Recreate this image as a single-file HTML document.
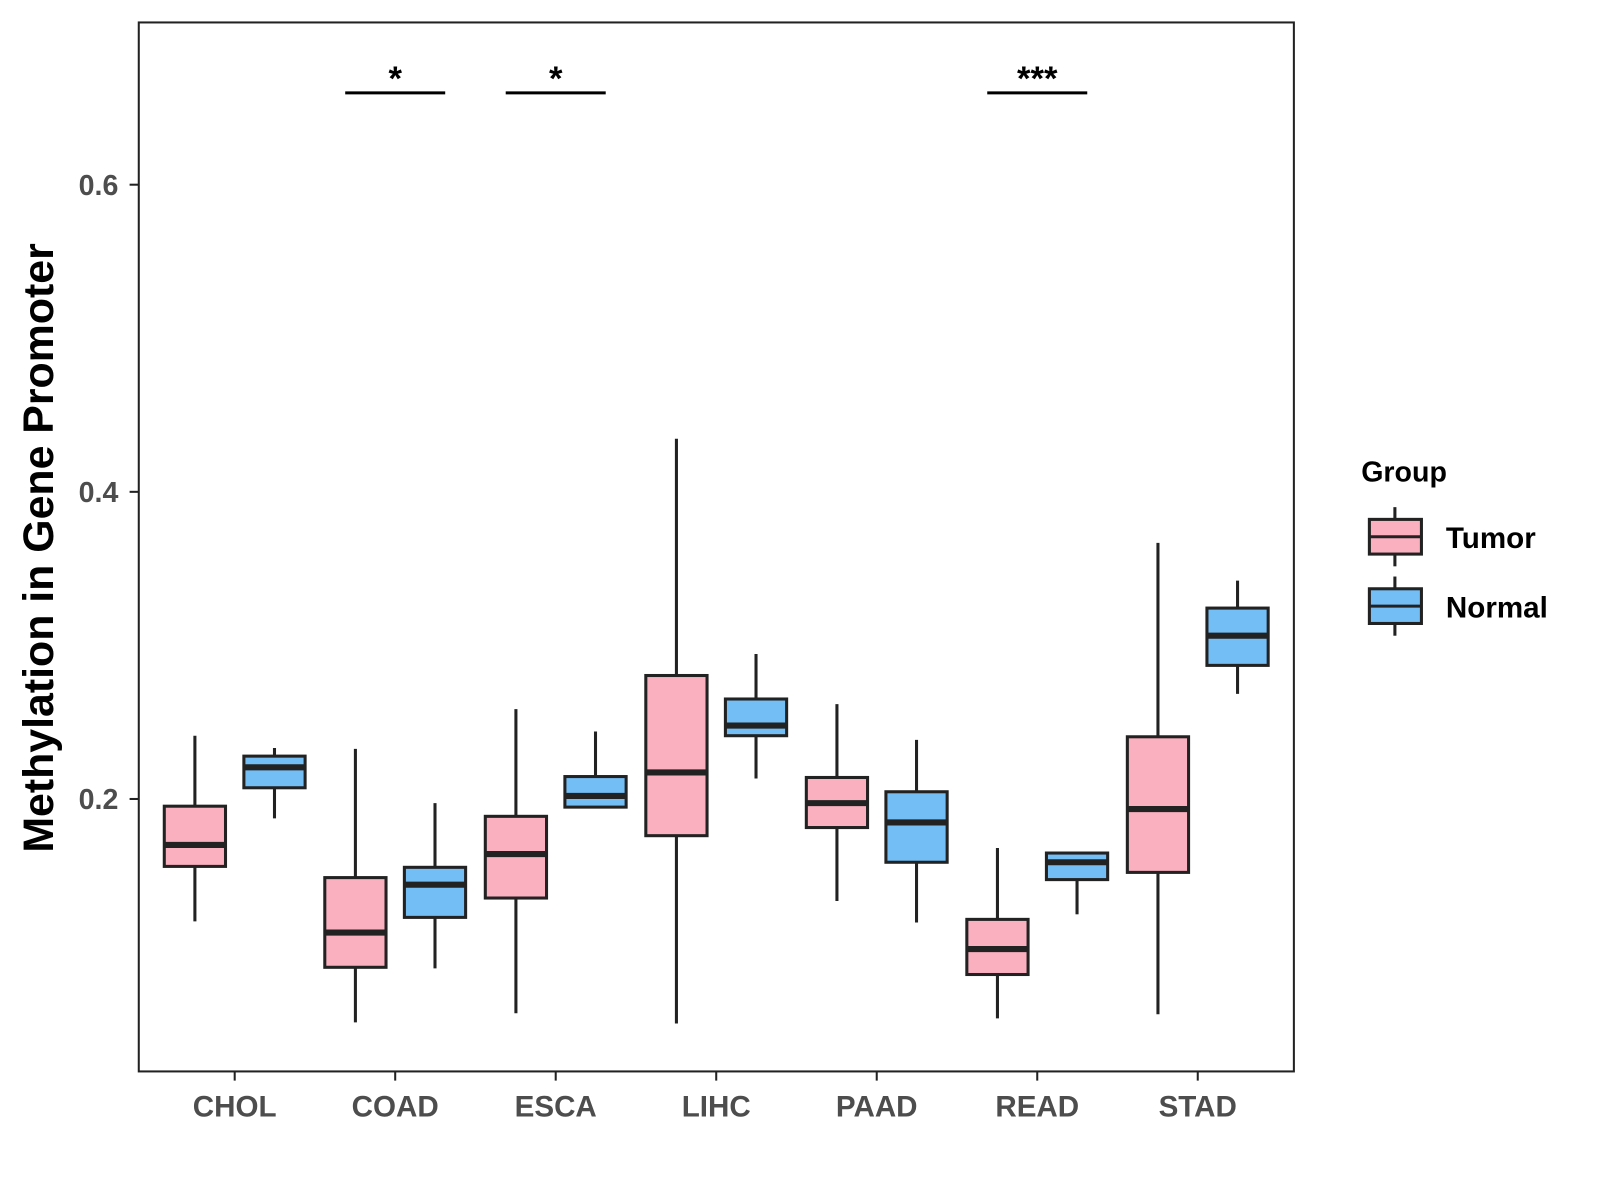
<!DOCTYPE html>
<html><head><meta charset="utf-8"><style>
html,body{margin:0;padding:0;background:#fff;}
svg{display:block;font-family:"Liberation Sans",Arial,sans-serif;}
</style></head><body>
<svg id="chart" width="1600" height="1200" viewBox="0 0 1568 1176" preserveAspectRatio="none">
<rect x="0" y="0" width="1568" height="1176" fill="#fff"/>
<rect x="136" y="22" width="1132" height="1028" fill="none" stroke="#222" stroke-width="2"/>
<g id="marks"></g>
<g id="axes"></g>
<text transform="translate(52,537) rotate(-90)" text-anchor="middle" font-size="42" font-weight="bold" fill="#000">Methylation in Gene Promoter</text>
<g>
<text x="1334" y="472" font-size="28" font-weight="bold" fill="#000">Group</text>
<g>
<line x1="1367" y1="497" x2="1367" y2="555" stroke="#222" stroke-width="3"/>
<rect x="1342" y="509" width="51" height="34" fill="#FBB0C0" stroke="#222" stroke-width="3"/>
<line x1="1342" y1="526" x2="1393" y2="526" stroke="#222" stroke-width="3"/>
<text x="1417" y="537" font-size="29" font-weight="bold" fill="#000">Tumor</text>
</g>
<g>
<line x1="1367" y1="565" x2="1367" y2="623" stroke="#222" stroke-width="3"/>
<rect x="1342" y="577" width="51" height="34" fill="#74BEF6" stroke="#222" stroke-width="3"/>
<line x1="1342" y1="594" x2="1393" y2="594" stroke="#222" stroke-width="3"/>
<text x="1417" y="605" font-size="29" font-weight="bold" fill="#000">Normal</text>
</g>
</g>
</svg>
<script>
const categories = ["CHOL","COAD","ESCA","LIHC","PAAD","READ","STAD"];
// [low whisker, q1, median, q3, high whisker]
const tumorStats = [
 [0.1203,0.1561,0.1701,0.1953,0.2412],
 [0.0545,0.0904,0.1130,0.1488,0.2326],
 [0.0605,0.1355,0.1641,0.1887,0.2585],
 [0.0538,0.1761,0.2173,0.2804,0.4346],
 [0.1336,0.1814,0.1973,0.2140,0.2618],
 [0.0571,0.0857,0.1023,0.1216,0.1681],
 [0.0598,0.1522,0.1934,0.2405,0.3668]
];
const normalStats = [
 [0.1874,0.2073,0.2206,0.2279,0.2332],
 [0.0897,0.1229,0.1442,0.1555,0.1973],
 [0.1947,0.1947,0.2020,0.2146,0.2439],
 [0.2133,0.2412,0.2478,0.2651,0.2944],
 [0.1196,0.1588,0.1847,0.2047,0.2385],
 [0.1249,0.1475,0.1588,0.1648,0.1648],
 [0.2684,0.2870,0.3063,0.3243,0.3422]
];
const yTicks = [0.2,0.4,0.6];
const yTickLabels = ["0.2","0.4","0.6"];
const sigCategories = ["COAD","ESCA","READ"];
const sigLabels = ["*","*","***"];

const NS="http://www.w3.org/2000/svg";
function yScale(v){return 783-(v-0.2)*1505;}
function xScale(i){return 230+i*157.3;}
function mk(tag,attrs,parent){const e=document.createElementNS(NS,tag);for(const k in attrs)e.setAttribute(k,attrs[k]);parent.appendChild(e);return e;}
const marks=document.getElementById('marks');
const axes=document.getElementById('axes');
function drawBox(s,cx,fill,name){
  const g=mk('g',{},marks);
  
  
  mk('line',{x1:cx,x2:cx,y1:yScale(s[0]),y2:yScale(s[4]),stroke:'#222','stroke-width':3},g);
  const t=yScale(s[3]),b=yScale(s[1]);
  mk('rect',{x:cx-30,y:t,width:60,height:b-t,fill:fill,stroke:'#222','stroke-width':3},g);
  mk('line',{x1:cx-30,x2:cx+30,y1:yScale(s[2]),y2:yScale(s[2]),stroke:'#222','stroke-width':6},g);
}
categories.forEach((c,i)=>{
  drawBox(tumorStats[i],xScale(i)-39,'#FBB0C0','box-tumor-'+c.toLowerCase());
  drawBox(normalStats[i],xScale(i)+39,'#74BEF6','box-normal-'+c.toLowerCase());
  mk('line',{x1:xScale(i),x2:xScale(i),y1:1050,y2:1059,stroke:'#222','stroke-width':2},axes);
  const t=mk('text',{x:xScale(i),y:1094,'text-anchor':'middle','font-size':29,'font-weight':'bold',fill:'#4d4d4d'},axes);
  t.textContent=c;
  
  
});
yTicks.forEach((v,i)=>{
  mk('line',{x1:127,x2:136,y1:yScale(v),y2:yScale(v),stroke:'#222','stroke-width':2},axes);
  const t=mk('text',{x:116,y:yScale(v)+10,'text-anchor':'end','font-size':28,'font-weight':'bold',fill:'#4d4d4d'},axes);
  t.textContent=yTickLabels[i];
  
  
});
sigCategories.forEach((c,i)=>{
  const cx=xScale(categories.indexOf(c));
  const g=mk('g',{},marks);
  
  
  mk('line',{x1:cx-49,x2:cx+49,y1:91,y2:91,stroke:'#000','stroke-width':3},g);
  const t=mk('text',{x:cx,y:88,'text-anchor':'middle','font-size':34,'font-weight':'bold',fill:'#000'},g);
  t.textContent=sigLabels[i];
});
</script>
</body></html>
